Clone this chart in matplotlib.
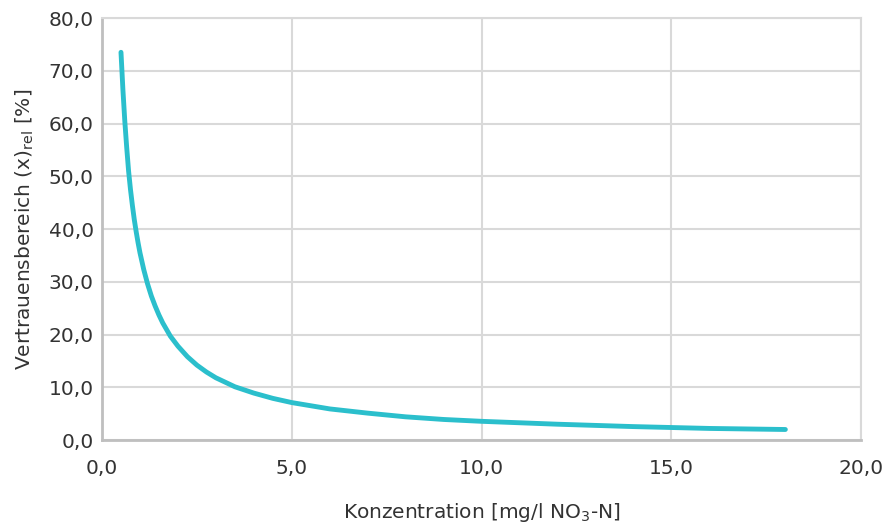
import matplotlib
matplotlib.use("Agg")
import matplotlib.pyplot as plt
from matplotlib.ticker import FuncFormatter, MultipleLocator

# values
konz = [0.5, 0.55, 0.6, 0.65, 0.7, 0.75, 0.8, 0.85, 0.9, 0.95, 1.0, 1.1,
        1.2, 1.3, 1.4, 1.5, 1.6, 1.8, 2.0, 2.25, 2.5, 2.75, 3.0, 3.5, 4.0,
        4.5, 5.0, 6.0, 7.0, 8.0, 9.0, 10.0, 12.0, 14.0, 16.0, 18.0]
vb_rel = [73.5, 66.5, 60.5, 55.5, 51.0, 47.5, 44.5, 41.8, 39.5, 37.4, 35.5,
          32.3, 29.6, 27.3, 25.4, 23.7, 22.2, 19.7, 17.8, 15.8, 14.2, 12.9,
          11.8, 10.1, 8.9, 7.9, 7.1, 5.9, 5.1, 4.4, 3.9, 3.55, 3.0, 2.55,
          2.2, 2.0]

plt.rcParams['font.family'] = ['DejaVu Sans']
txt = '#333333'

fig = plt.figure(figsize=(8.87, 5.22), dpi=100)
ax = fig.add_axes([0.115, 0.157, 0.856, 0.8085])

ax.plot(konz, vb_rel, color='#2bbfcc', lw=3.5, solid_capstyle='round',
        solid_joinstyle='round', zorder=3)

ax.set_xlim(0, 20)
ax.set_ylim(0, 80)
ax.xaxis.set_major_locator(MultipleLocator(5))
ax.yaxis.set_major_locator(MultipleLocator(10))
fmt = FuncFormatter(lambda v, p: f"{v:.1f}".replace('.', ','))
ax.xaxis.set_major_formatter(fmt)
ax.yaxis.set_major_formatter(fmt)

ax.grid(True, color='#d9d9d9', lw=1.5)
ax.set_axisbelow(True)
for s in ['top', 'right']:
    ax.spines[s].set_color('#d9d9d9')
    ax.spines[s].set_linewidth(1.5)
for s in ['left', 'bottom']:
    ax.spines[s].set_color('#bfbfbf')
    ax.spines[s].set_linewidth(2)

ax.tick_params(axis='y', length=0, labelsize=14.5, colors=txt, pad=6)
ax.tick_params(axis='x', length=0, labelsize=14.5, colors=txt, pad=14)
ax.set_xlabel(r"Konzentration [mg/l NO$_\mathregular{3}$-N]", fontsize=14.5,
              color=txt, labelpad=16)
ax.set_ylabel(r"Vertrauensbereich (x)$_\mathregular{rel}$ [%]", fontsize=14.5,
              color=txt, labelpad=9)

fig.savefig("out.png", dpi=100)
